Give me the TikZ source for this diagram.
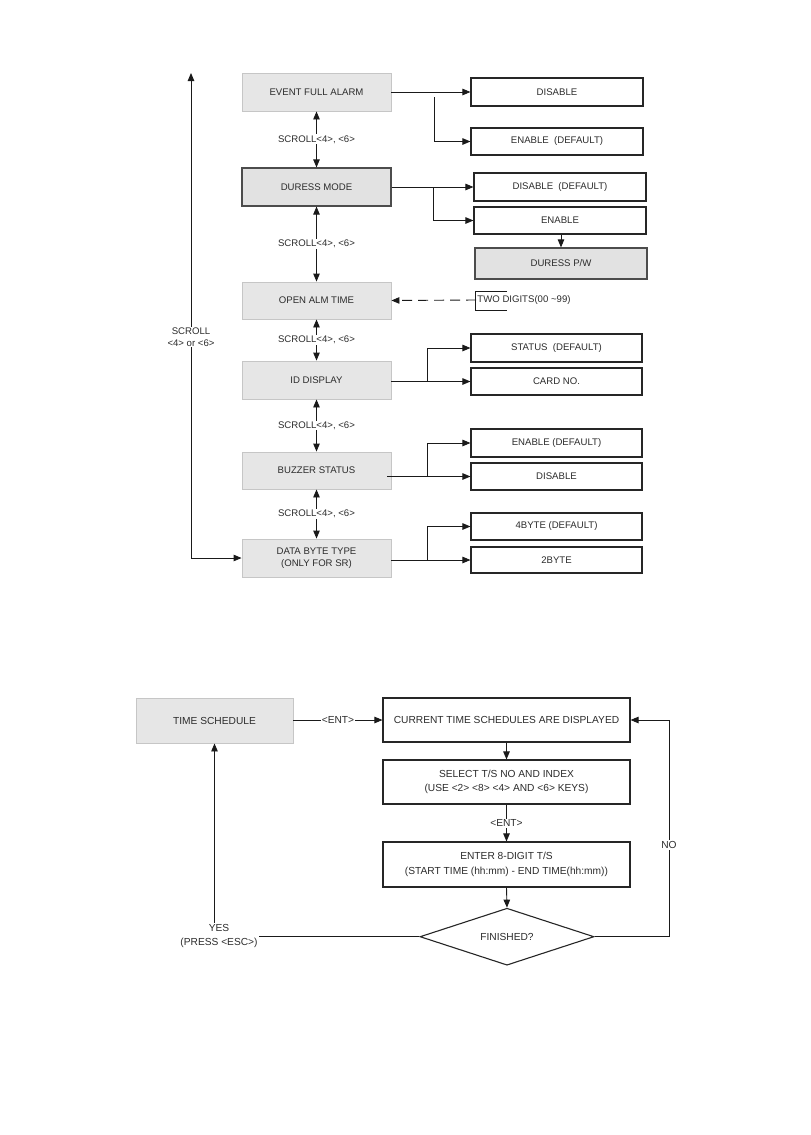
\documentclass[tikz,border=0pt]{standalone}
\usepackage{fontspec}
\setmainfont{Liberation Sans}
\usetikzlibrary{shapes.geometric,arrows.meta}
\definecolor{lgfill}{HTML}{E6E6E6}
\definecolor{lgborder}{HTML}{C6C6C6}
\definecolor{dgfill}{HTML}{E2E2E2}
\definecolor{txt}{HTML}{2C2C2C}
\definecolor{lncol}{HTML}{1A1A1A}
\begin{document}
\begin{tikzpicture}[x=1pt,y=-1pt,
  >={Triangle[length=8pt,width=6.5pt]},
  every node/.style={font=\fontsize{9.6}{11.5}\selectfont, text=txt},
  bfont/.style={font=\fontsize{10.2}{14.5}\selectfont},
  lbox/.style={draw=lgborder, fill=lgfill, line width=0.9pt, minimum width=149pt, inner sep=0pt, align=center},
  dbox/.style={draw=black!70, fill=dgfill, line width=1.2pt, inner sep=0pt, align=center},
  wbox/.style={draw=black!85, fill=white, line width=1.1pt, inner sep=0pt, align=center},
  lab/.style={fill=white, inner sep=1pt, align=center},
  every path/.style={line width=0.9pt, draw=lncol},
]
\useasboundingbox[fill=white,draw=none] (0,0) rectangle (811,1135);

% main column
\node[lbox, minimum height=38pt] (efa) at (316.5,92) {EVENT FULL ALARM};
\node[dbox, minimum width=149pt, minimum height=38pt] (dm) at (316.5,187) {DURESS MODE};
\node[lbox, minimum height=37pt] (oat) at (316.5,300.5) {OPEN ALM TIME};
\node[lbox, minimum height=38pt] (idd) at (316.5,380) {ID DISPLAY};
\node[lbox, minimum height=37pt] (buzz) at (316.5,470.5) {BUZZER STATUS};
\node[lbox, minimum height=38pt] (dbt) at (316.5,558) {DATA BYTE TYPE\\(ONLY FOR SR)};

% option boxes
\node[wbox, minimum width=172pt, minimum height=28pt] (dis1) at (557,92) {DISABLE};
\node[wbox, minimum width=172pt, minimum height=27pt] (en1) at (557,141.5) {ENABLE\ \ (DEFAULT)};
\node[wbox, minimum width=172pt, minimum height=28pt] (dis2) at (560,187) {DISABLE\ \ (DEFAULT)};
\node[wbox, minimum width=172pt, minimum height=27pt] (en2) at (560,220.5) {ENABLE};
\node[dbox, minimum width=172pt, minimum height=31pt] (dpw) at (561,263.5) {DURESS P/W};
\node[wbox, minimum width=171pt, minimum height=28pt] (stat) at (556.5,348) {STATUS\ \ (DEFAULT)};
\node[wbox, minimum width=171pt, minimum height=27pt] (card) at (556.5,381.5) {CARD NO.};
\node[wbox, minimum width=171pt, minimum height=28pt] (en3) at (556.5,443) {ENABLE (DEFAULT)};
\node[wbox, minimum width=171pt, minimum height=27pt] (dis3) at (556.5,476.5) {DISABLE};
\node[wbox, minimum width=171pt, minimum height=27pt] (b4) at (556.5,526.5) {4BYTE (DEFAULT)};
\node[wbox, minimum width=171pt, minimum height=26pt] (b2) at (556.5,560) {2BYTE};

% connectors to options
\draw[->] (efa.east) -- (dis1.west);
\coordinate (c1) at (434,97);
\draw[->] (c1) -- (c1 |- en1.west) -- (en1.west);
\draw[->] (dm.east) -- (dis2.west);
\coordinate (c2) at (433,187);
\draw[->] (c2) -- (c2 |- en2.west) -- (en2.west);
\draw[->] (dpw.north |- en2.south) -- (dpw.north);

\node[anchor=west, inner sep=1pt] (two) at (476,300) {TWO DIGITS(00 \textasciitilde99)};
\draw[line width=0.7pt] (507,291) -- (475,291) -- (475,310) -- (507,310);
\draw[->, dash pattern=on 10pt off 6pt] (two.west) -- (oat.east);

\draw[->] (idd.east |- card.west) -- (card.west);
\coordinate (c3) at (427,381.5);
\draw[->] (c3) -- (c3 |- stat.west) -- (stat.west);
\draw[->] ([xshift=-4pt]buzz.east |- dis3.west) -- (dis3.west);
\coordinate (c4) at (427,476.5);
\draw[->] (c4) -- (c4 |- en3.west) -- (en3.west);
\draw[->] (dbt.east |- b2.west) -- (b2.west);
\coordinate (c5) at (427,560);
\draw[->] (c5) -- (c5 |- b4.west) -- (b4.west);

% scroll arrows
\draw[<->] (efa.south) -- (dm.north) node[midway, lab] {SCROLL<4>, <6>};
\draw[<->] (dm.south) -- (oat.north) node[midway, lab] {SCROLL<4>, <6>};
\draw[<->] (oat.south) -- (idd.north) node[midway, lab] {SCROLL<4>, <6>};
\draw[<->] (idd.south) -- (buzz.north) node[midway, lab] {SCROLL<4>, <6>};
\draw[<->] (buzz.south) -- (dbt.north) node[midway, lab] {SCROLL<4>, <6>};

% left loop
\coordinate (ltop) at (191,73);
\draw[<->] (ltop) -- (ltop |- dbt.west) -- (dbt.west);
\node[lab] (lscroll) at (191,337) {SCROLL\\<4> or <6>};

% ===== bottom flowchart =====
\node[lbox, bfont, minimum width=157pt, minimum height=45pt] (ts) at (214.5,720.5) {TIME SCHEDULE};
\node[wbox, bfont, minimum width=247pt, minimum height=44pt] (cts) at (506.5,720) {CURRENT TIME SCHEDULES ARE DISPLAYED};
\node[wbox, bfont, minimum width=247pt, minimum height=44pt] (sel) at (506.5,782) {SELECT T/S NO AND INDEX\\(USE <2> <8> <4> AND <6> KEYS)};
\node[wbox, bfont, minimum width=247pt, minimum height=45pt] (ent) at (506.5,864.5) {ENTER 8-DIGIT T/S\\(START TIME (hh:mm) - END TIME(hh:mm))};
\node[wbox, bfont, diamond, aspect=3, minimum width=174pt, minimum height=57pt] (dia) at (507,936.7) {FINISHED?};

\draw[->] (ts.east |- cts.west) -- (cts.west) node[midway, lab, bfont] {<ENT>};
\draw[->] (cts.south) -- (sel.north);
\draw[->] (sel.south) -- (ent.north) node[midway, lab, bfont] {<ENT>};
\draw[->] (ent.south) -- (dia.north);

\node[lab, bfont] (yes) at (219,936) {YES\\(PRESS <ESC>)};
\draw (dia.west) -- (dia.west -| yes.east);
\draw[->] (ts.south |- yes.north) -- (ts.south);

\coordinate (nr) at (669,936.7);
\draw[->] (dia.east) -- (nr) -- (nr |- cts.east) -- (cts.east);
\node[lab, bfont] (no) at (669,845) {NO};
\end{tikzpicture}
\end{document}
